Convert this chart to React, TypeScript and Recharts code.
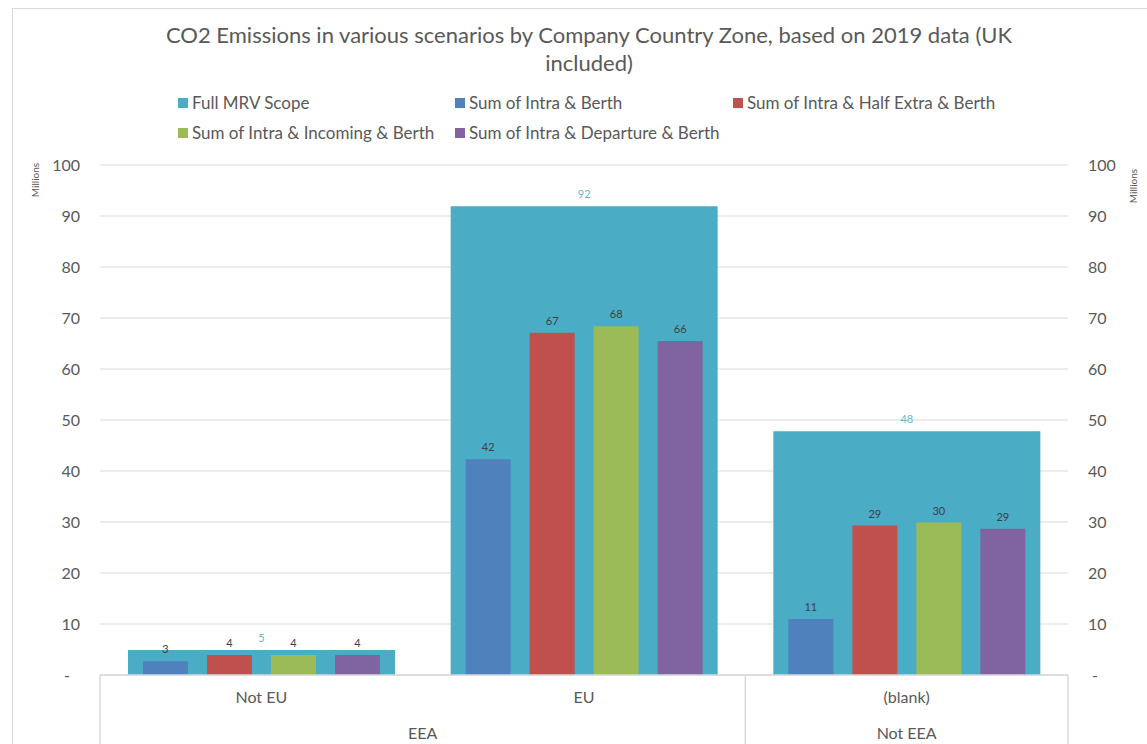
import React from 'react';
import { BarChart, Bar, XAxis, YAxis, CartesianGrid, LabelList } from 'recharts';

const categories = ['Not EU', 'EU', '(blank)'];
const groups = ['EEA', 'EEA', 'Not EEA'];
const fullMrv = [4.9, 91.9, 47.8];
const intraBerth = [2.7, 42.3, 11.0];
const intraHalfExtra = [3.9, 67.1, 29.3];
const intraIncoming = [3.9, 68.4, 29.9];
const intraDeparture = [3.9, 65.5, 28.7];
const yTicks = [0, 10, 20, 30, 40, 50, 60, 70, 80, 90, 100];

const seriesNames = [
  'Full MRV Scope',
  'Sum of Intra & Berth',
  'Sum of Intra & Half Extra & Berth',
  'Sum of Intra & Incoming & Berth',
  'Sum of Intra & Departure & Berth',
];
const colors = ['#4BACC6', '#4F81BD', '#C0504D', '#9BBB59', '#8064A2'];

const data = categories.map((c, i) => ({
  cat: c,
  group: groups[i],
  full: fullMrv[i],
  a: intraBerth[i],
  b: intraHalfExtra[i],
  c: intraIncoming[i],
  d: intraDeparture[i],
}));

const FONT = 'Lato, "Open Sans", sans-serif';
const TEXT = '#595959';
const GRID = '#D9D9D9';

const fmt = (v: any) => String(Math.round(Number(v)));

const LeftTick = (props: any) => {
  const { x, y, payload } = props;
  const zero = payload.value === 0;
  return (
    <text x={x} y={y} dx={zero ? -10 : 0} dy={6} textAnchor="end" fontSize={16} fill={TEXT} fontFamily={FONT}>
      {zero ? '-' : payload.value}
    </text>
  );
};

const RightTick = (props: any) => {
  const { x, y, payload } = props;
  const zero = payload.value === 0;
  return (
    <text x={x} y={y} dx={zero ? 4 : 0} dy={6} textAnchor="start" fontSize={16} fill={TEXT} fontFamily={FONT}>
      {zero ? '-' : payload.value}
    </text>
  );
};

const CatTick = (props: any) => {
  const { y, payload, index } = props;
  const cx = payload.coordinate;
  const half = payload.offset || 0;
  const left = cx - half;
  const i = index;
  const g = groups[i];
  const isGroupStart = i === 0 || groups[i - 1] !== g;
  let groupCenter = cx;
  let count = 1;
  if (isGroupStart) {
    let j = i;
    while (j + 1 < groups.length && groups[j + 1] === g) j++;
    count = j - i + 1;
    groupCenter = left + count * half;
  }
  const groupEnd = left + count * 2 * half;
  const top = y - 8;
  return (
    <g>
      <text x={cx} y={top + 28} textAnchor="middle" fontSize={16} fill={TEXT} fontFamily={FONT}>
        {payload.value}
      </text>
      {isGroupStart && (
        <>
          <text x={groupCenter} y={top + 64} textAnchor="middle" fontSize={16} fill={TEXT} fontFamily={FONT}>
            {g}
          </text>
          <line x1={left} x2={left} y1={top} y2={top + 80} stroke={GRID} strokeWidth={1.5} />
          {i + count >= groups.length && (
            <line x1={groupEnd} x2={groupEnd} y1={top} y2={top + 80} stroke={GRID} strokeWidth={1.5} />
          )}
        </>
      )}
    </g>
  );
};

const legendPos = [
  { x: 178, y: 94 },
  { x: 455, y: 94 },
  { x: 733, y: 94 },
  { x: 178, y: 124 },
  { x: 455, y: 124 },
];

export default function App() {
  return (
    <div
      style={{
        position: 'fixed',
        left: 0,
        top: 0,
        width: 1147,
        height: 744,
        background: '#fff',
        fontFamily: FONT,
        overflow: 'hidden',
      }}
    >
      <div
        style={{
          position: 'absolute',
          left: 12,
          top: 8,
          width: 1200,
          height: 800,
          border: '1px solid #D9D9D9',
          boxSizing: 'border-box',
        }}
      />
      <div
        style={{
          position: 'absolute',
          left: 0,
          width: 1178,
          top: 21,
          textAlign: 'center',
          fontSize: 22,
          lineHeight: '28px',
          color: TEXT,
        }}
      >
        CO2 Emissions in various scenarios by Company Country Zone, based on 2019 data (UK
        <br />
        included)
      </div>
      {seriesNames.map((n, i) => (
        <div
          key={n}
          style={{
            position: 'absolute',
            left: legendPos[i].x,
            top: legendPos[i].y - 2,
            display: 'flex',
            alignItems: 'center',
            fontSize: 17,
            color: TEXT,
            whiteSpace: 'nowrap',
          }}
        >
          <span style={{ display: 'inline-block', width: 10, height: 10, background: colors[i], marginRight: 4 }} />
          {n}
        </div>
      ))}
      <div
        style={{
          position: 'absolute',
          left: 35,
          top: 180,
          transform: 'translate(-50%, -50%) rotate(-90deg)',
          fontSize: 10,
          color: TEXT,
          whiteSpace: 'nowrap',
          zIndex: 2,
        }}
      >
        Millions
      </div>
      <div
        style={{
          position: 'absolute',
          left: 1133,
          top: 186,
          transform: 'translate(-50%, -50%) rotate(-90deg)',
          fontSize: 10,
          color: TEXT,
          whiteSpace: 'nowrap',
          zIndex: 2,
        }}
      >
        Millions
      </div>
      <div style={{ position: 'absolute', left: 0, top: 0 }}>
        <BarChart
          width={1147}
          height={744}
          data={data}
          margin={{ top: 165, right: 19, bottom: 0, left: 40 }}
          barGap={19}
        >
          <CartesianGrid yAxisId="left" xAxisId="main" vertical={false} stroke={GRID} strokeWidth={1.2} />
          <XAxis xAxisId="bg" dataKey="cat" hide height={0} />
          <XAxis
            xAxisId="main"
            dataKey="cat"
            height={69}
            axisLine={{ stroke: GRID, strokeWidth: 1.5 }}
            tickLine={false}
            tick={<CatTick />}
            interval={0}
          />
          <YAxis
            yAxisId="left"
            orientation="left"
            width={60}
            domain={[0, 100]}
            ticks={yTicks}
            axisLine={false}
            tickLine={false}
            tickMargin={14}
            tick={<LeftTick />}
          />
          <YAxis
            yAxisId="right"
            orientation="right"
            width={60}
            domain={[0, 100]}
            ticks={yTicks}
            axisLine={false}
            tickLine={false}
            tickMargin={14}
            tick={<RightTick />}
          />
          <Bar xAxisId="bg" yAxisId="right" dataKey="full" name={seriesNames[0]} fill={colors[0]} barSize={267} isAnimationActive={false}>
            <LabelList dataKey="full" position="top" offset={8} formatter={fmt} fontSize={11} fill="#6AB4D4" fontFamily={FONT} />
          </Bar>
          {(['a', 'b', 'c', 'd'] as const).map((k, i) => (
            <Bar
              key={k}
              xAxisId="main"
              yAxisId="left"
              dataKey={k}
              name={seriesNames[i + 1]}
              fill={colors[i + 1]}
              barSize={45}
              isAnimationActive={false}
            >
              <LabelList dataKey={k} position="top" offset={8} formatter={fmt} fontSize={11} fill="#404040" fontFamily={FONT} />
            </Bar>
          ))}
        </BarChart>
      </div>
    </div>
  );
}
